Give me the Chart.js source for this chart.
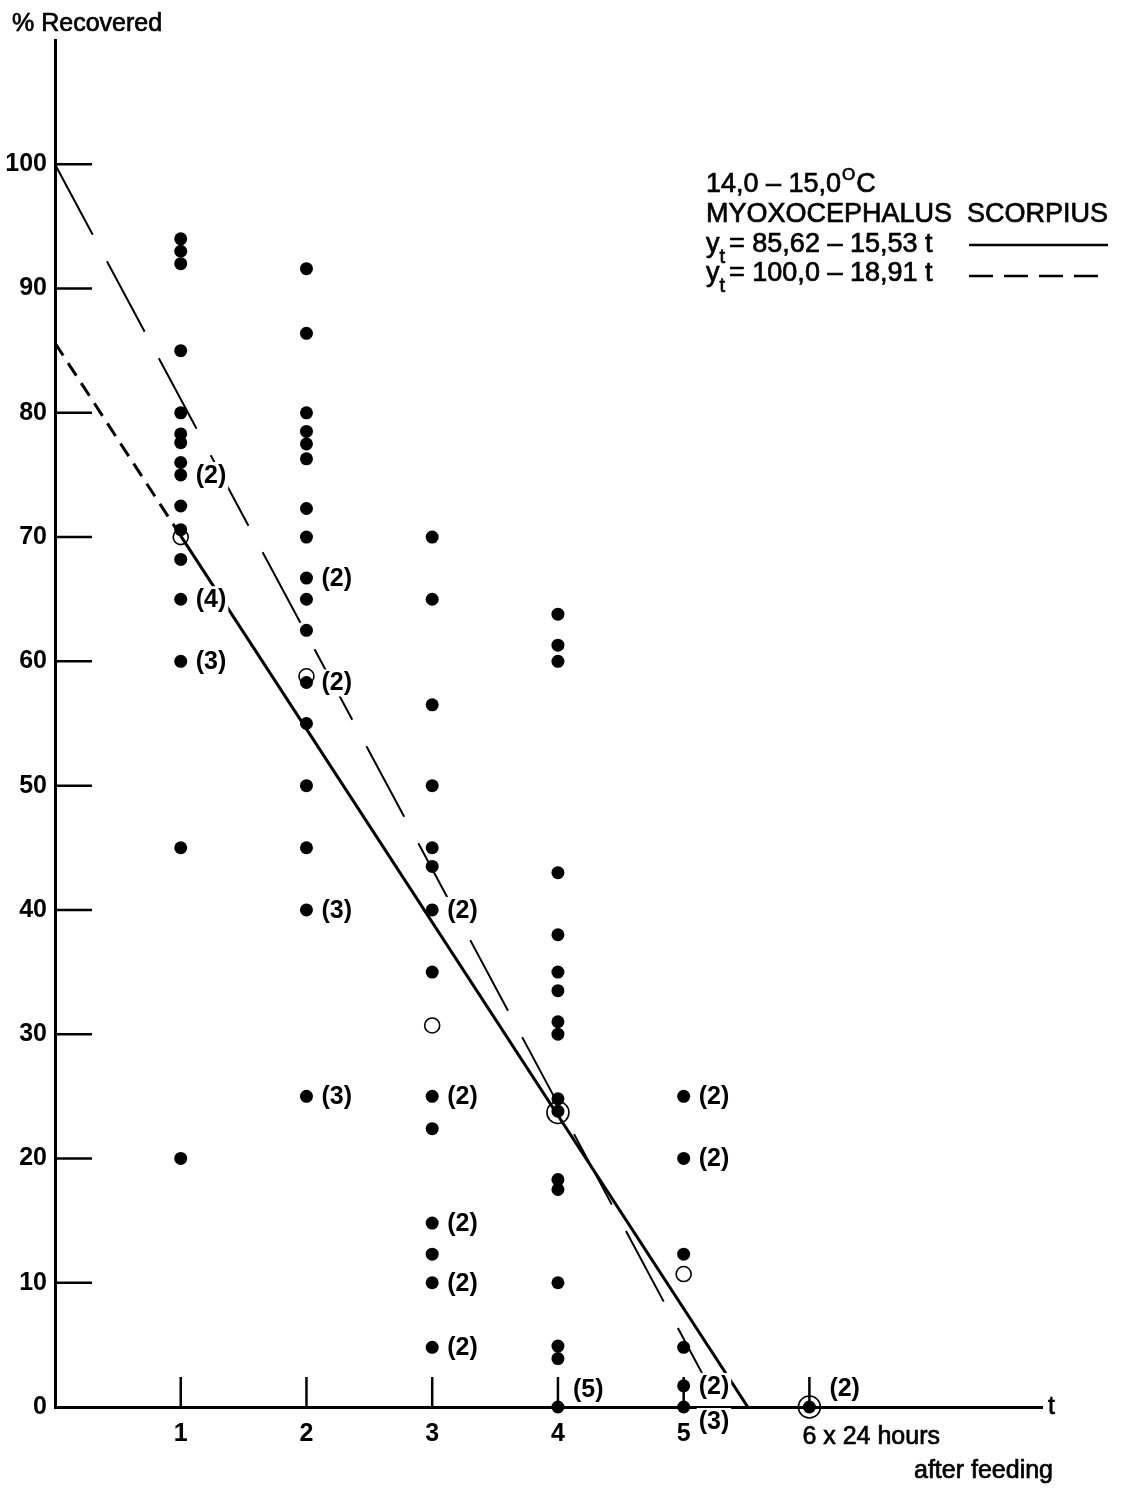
<!DOCTYPE html>
<html>
<head>
<meta charset="utf-8">
<script src="https://cdn.jsdelivr.net/npm/chart.js@4.4.0/dist/chart.umd.min.js"></script>
<style>
  body { margin: 0; background: #fff; }
  #wrap { width: 1124px; height: 1488px; }
</style>
</head>
<body>
<div id="wrap"><canvas id="recoveryChart" width="1124" height="1488"></canvas></div>
<script>
// % recovered per fish, by day after feeding (t = days, 24 h units)
const day1 = [94, 93, 92, 85, 80, 78.3, 77.6, 76, 75, 72.5, 70.6, 68.2, 65, 60, 45, 20];
const day2 = [91.6, 86.4, 80, 78.5, 77.5, 76.3, 72.3, 70, 66.7, 65, 62.5, 58.3, 55, 50, 45, 40, 25];
const day3 = [70, 65, 56.5, 50, 45, 43.5, 40, 35, 25, 22.4, 14.8, 12.3, 10, 4.8];
const day4 = [63.8, 61.3, 60, 43, 38, 35, 33.5, 31, 30, 24.8, 23.8, 18.3, 17.5, 10, 4.9, 3.9, 0];
const day5 = [25, 20, 12.3, 4.8, 1.7, 0];
const day6 = [0];

// means per day (open circles) and the two "ringed" means
const meanDays = [1, 2, 3, 5];
const meanValues = [70, 58.8, 30.7, 10.7];
const ringDays = [4, 6];
const ringValues = [23.7, 0];

// repeated observations: [day, value, count]
const repeats = [
  [1, 75, 2], [1, 65, 4], [1, 60, 3],
  [2, 66.7, 2], [2, 58.3, 2], [2, 40, 3], [2, 25, 3],
  [3, 40, 2], [3, 25, 2], [3, 14.8, 2], [3, 10, 2], [3, 4.8, 2],
  [4, 0, 5],
  [5, 25, 2], [5, 20, 2], [5, 1.7, 2], [5, 0, 3],
  [6, 0, 2]
];

// regression lines (end points)
const fitSolid = [{ x: 1, y: 70.1 }, { x: 5.51, y: 0 }];       // y = 85,62 - 15,53 t
const fitSolidExt = [{ x: 0, y: 85.62 }, { x: 1, y: 70.1 }];
const fitDashed = [{ x: 0, y: 100 }, { x: 5.29, y: 0 }];       // y = 100,0 - 18,91 t

const xTickLabels = ["1", "2", "3", "4", "5"];
const yTicks = [0, 10, 20, 30, 40, 50, 60, 70, 80, 90, 100];

const FONT = "'Liberation Sans', Arial, sans-serif";

function toPoints(day, values) {
  return values.map(v => ({ x: day, y: v }));
}

const dots = [].concat(
  toPoints(1, day1), toPoints(2, day2), toPoints(3, day3),
  toPoints(4, day4), toPoints(5, day5), toPoints(6, day6)
);

// slightly heavier text, like the printed original
function heavyText(ctx, txt, x, y) {
  ctx.fillText(txt, x, y);
  ctx.lineWidth = 0.7;
  ctx.strokeText(txt, x, y);
}

const annotate = {
  id: "annotate",
  afterDatasetsDraw(chart) {
    const ctx = chart.ctx;
    const xs = chart.scales.x;
    const ys = chart.scales.y;
    const area = chart.chartArea;
    ctx.save();
    ctx.strokeStyle = "#000";
    ctx.fillStyle = "#000";

    // inward tick marks on y axis
    ctx.lineWidth = 2.5;
    yTicks.forEach(v => {
      if (v === 0) return;
      const py = ys.getPixelForValue(v);
      ctx.beginPath();
      ctx.moveTo(area.left, py);
      ctx.lineTo(area.left + 37, py);
      ctx.stroke();
    });
    // upward tick marks on x axis
    [1, 2, 3, 4, 5, 6].forEach(d => {
      const px = xs.getPixelForValue(d);
      ctx.beginPath();
      ctx.moveTo(px, area.bottom);
      ctx.lineTo(px, area.bottom - 30);
      ctx.stroke();
    });

    // counts of repeated observations
    ctx.font = "bold 25px " + FONT;
    ctx.textBaseline = "middle";
    ctx.textAlign = "left";
    repeats.forEach(([d, v, n]) => {
      let px = xs.getPixelForValue(d) + 15;
      let py = ys.getPixelForValue(v) + 1;
      if (v === 0 && d === 5) py += 14;
      else if (v === 0 && d === 6) { py -= 19; px += 5; }
      else if (v === 0) py -= 18;
      const txt = "(" + n + ")";
      const w = ctx.measureText(txt).width;
      ctx.fillStyle = "#fff";
      ctx.fillRect(px - 2, py - 14, w + 4, 27);
      ctx.fillStyle = "#000";
      ctx.fillText(txt, px, py);
    });

    // axis titles
    ctx.font = "25px " + FONT;
    ctx.textBaseline = "alphabetic";
    heavyText(ctx, "% Recovered", 12, 31);
    ctx.textBaseline = "middle";
    heavyText(ctx, "t", area.right + 6, area.bottom);
    heavyText(ctx, "6 x 24 hours", xs.getPixelForValue(6) - 7, area.bottom + 30);
    ctx.textAlign = "right";
    heavyText(ctx, "after feeding", 1053, area.bottom + 64);

    // legend block
    ctx.textAlign = "left";
    ctx.textBaseline = "alphabetic";
    ctx.font = "27px " + FONT;
    const x0 = 706;
    heavyText(ctx, "14,0 \u2013 15,0", x0, 192);
    const w = ctx.measureText("14,0 \u2013 15,0").width;
    ctx.font = "17px " + FONT;
    heavyText(ctx, "O", x0 + w + 1, 180);
    const w2 = ctx.measureText("O").width;
    ctx.font = "27px " + FONT;
    heavyText(ctx, "C", x0 + w + w2 + 2, 192);
    heavyText(ctx, "MYOXOCEPHALUS  SCORPIUS", x0, 222);

    function yt(text, base) {
      ctx.font = "27px " + FONT;
      heavyText(ctx, "y", x0, base);
      const wy = ctx.measureText("y").width;
      ctx.font = "20px " + FONT;
      heavyText(ctx, "t", x0 + wy, base + 11);
      const wt = ctx.measureText("t").width;
      ctx.font = "27px " + FONT;
      heavyText(ctx, text, x0 + wy + wt + 4, base);
    }
    yt("= 85,62 \u2013 15,53 t", 252);
    yt("= 100,0 \u2013 18,91 t", 281);

    ctx.lineWidth = 2.5;
    ctx.beginPath();
    ctx.moveTo(969, 245);
    ctx.lineTo(1108, 245);
    ctx.stroke();
    ctx.setLineDash([24, 11]);
    ctx.beginPath();
    ctx.moveTo(969, 276);
    ctx.lineTo(1108, 276);
    ctx.stroke();
    ctx.restore();
  }
};

new Chart(document.getElementById("recoveryChart"), {
  type: "scatter",
  data: {
    datasets: [
      {
        label: "observations",
        data: dots,
        pointRadius: 6.5,
        pointHoverRadius: 6.5,
        backgroundColor: "#000",
        borderWidth: 0,
        clip: false
      },
      {
        label: "means",
        data: meanDays.map((d, i) => ({ x: d, y: meanValues[i] })),
        pointRadius: 7.5,
        backgroundColor: "rgba(0,0,0,0)",
        borderColor: "#000",
        borderWidth: 1.6,
        clip: false
      },
      {
        label: "ringed means",
        data: ringDays.map((d, i) => ({ x: d, y: ringValues[i] })),
        pointRadius: 11,
        backgroundColor: "rgba(0,0,0,0)",
        borderColor: "#000",
        borderWidth: 1.6,
        clip: false
      },
      {
        label: "fit 85,62",
        type: "line",
        data: fitSolid,
        borderColor: "#000",
        borderWidth: 3,
        pointRadius: 0,
        showLine: true
      },
      {
        label: "fit 85,62 extension",
        type: "line",
        data: fitSolidExt,
        borderColor: "#000",
        borderWidth: 3,
        borderDash: [15, 9],
        pointRadius: 0,
        showLine: true
      },
      {
        label: "fit 100,0",
        type: "line",
        data: fitDashed,
        borderColor: "#000",
        borderWidth: 2,
        borderDash: [80, 30],
        pointRadius: 0,
        showLine: true
      }
    ]
  },
  options: {
    responsive: false,
    animation: false,
    devicePixelRatio: 1,
    layout: { padding: { top: 40, right: 82, left: 0, bottom: 0 } },
    plugins: {
      legend: { display: false },
      tooltip: { enabled: false },
      title: { display: false }
    },
    scales: {
      x: {
        type: "linear",
        min: 0,
        max: 7.85,
        afterFit: s => { s.height = 81; },
        grid: { display: false, drawTicks: false },
        border: { display: true, color: "#000", width: 3 },
        ticks: {
          stepSize: 1,
          autoSkip: false,
          maxRotation: 0,
          padding: 12,
          color: "#000",
          font: { family: FONT, size: 25, weight: "bold" },
          callback: v => (Number.isInteger(v) && v >= 1 && v <= xTickLabels.length) ? xTickLabels[v - 1] : ""
        }
      },
      y: {
        min: 0,
        max: 110,
        afterFit: s => { s.width = 55; },
        grid: { display: false, drawTicks: false },
        border: { display: true, color: "#000", width: 3 },
        ticks: {
          stepSize: 10,
          padding: 8,
          color: "#000",
          font: { family: FONT, size: 25, weight: "bold" },
          callback: v => yTicks.includes(v) ? String(v) : ""
        }
      }
    }
  },
  plugins: [annotate]
});
</script>
</body>
</html>
